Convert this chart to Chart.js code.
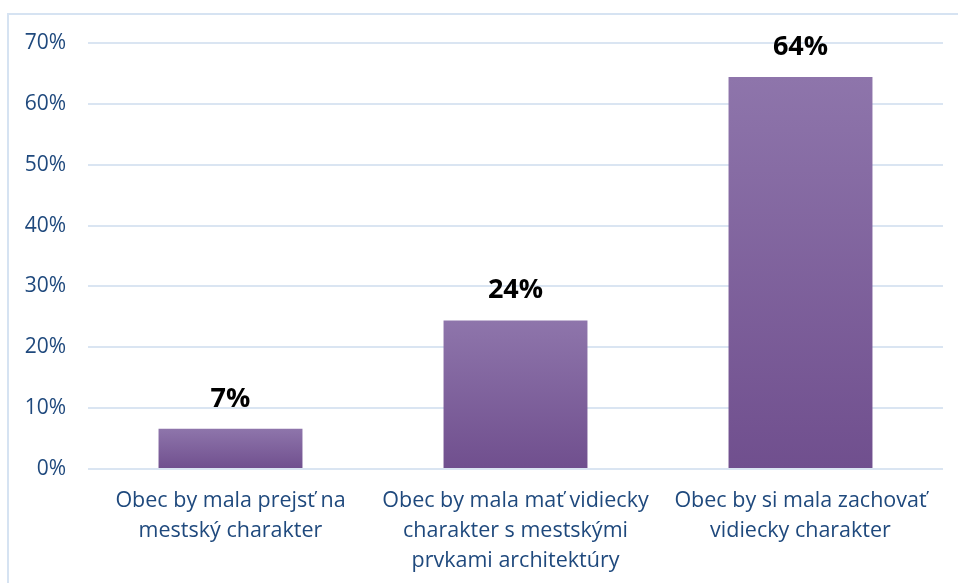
<!DOCTYPE html>
<html>
<head>
<meta charset="utf-8">
<script src="https://cdn.jsdelivr.net/npm/chart.js@4.4.1/dist/chart.umd.min.js"></script>
<style>
  html, body { margin: 0; padding: 0; background: #fff; }
  body { width: 958px; height: 583px; position: relative; overflow: hidden; }
  #frame { position: absolute; left: 7px; top: 13px; width: 1000px; height: 700px;
           border-left: 2px solid #d6e3f2; border-top: 2px solid #d6e3f2; }
  #wrap { position: absolute; left: 0; top: 0; width: 958px; height: 583px; }
</style>
</head>
<body>
<div id="frame"></div>
<div id="wrap"><canvas id="chart" width="958" height="583"></canvas></div>
<script>
const categories = [
  ["Obec by mala prejsť na", "mestský charakter"],
  ["Obec by mala mať vidiecky", "charakter s mestskými", "prvkami architektúry"],
  ["Obec by si mala zachovať", "vidiecky charakter"]
];
const values = [6.6, 24.4, 64.4];
const valueLabels = ["7%", "24%", "64%"];
const yTicks = [0, 10, 20, 30, 40, 50, 60, 70];

const FONT = "'Open Sans', Lato, sans-serif";
const BLUE = "#1f497d";

/* gradient per bar, lighter at the top */
function barFill(context) {
  const chart = context.chart;
  if (!chart.chartArea || context.dataIndex === undefined) return "#7f60a0";
  const y = chart.scales.y;
  const top = y.getPixelForValue(context.raw);
  const base = y.getPixelForValue(0);
  const g = chart.ctx.createLinearGradient(0, top, 0, base);
  g.addColorStop(0, "#8e75ab");
  g.addColorStop(1, "#704f8e");
  return g;
}

const valueLabelPlugin = {
  id: "valueLabels",
  afterDatasetsDraw(chart) {
    const ctx = chart.ctx;
    const meta = chart.getDatasetMeta(0);
    ctx.save();
    ctx.font = "bold 27px " + FONT;
    ctx.fillStyle = "#000";
    ctx.textAlign = "center";
    ctx.textBaseline = "middle";
    meta.data.forEach((bar, i) => {
      ctx.fillText(valueLabels[i], bar.x, bar.y - 30);
    });
    ctx.restore();
  }
};

new Chart(document.getElementById("chart"), {
  type: "bar",
  data: {
    labels: categories,
    datasets: [{
      data: values,
      backgroundColor: barFill,
      borderWidth: 0,
      categoryPercentage: 1,
      barPercentage: 0.505
    }]
  },
  options: {
    responsive: false,
    animation: false,
    devicePixelRatio: 1,
    layout: { padding: { top: 43, right: 15, bottom: 0, left: 0 } },
    plugins: { legend: { display: false }, tooltip: { enabled: false } },
    scales: {
      x: {
        grid: { display: false },
        border: { display: false },
        ticks: {
          color: BLUE,
          font: { family: FONT, size: 21.5, lineHeight: 1.4 },
          padding: 9,
          maxRotation: 0,
          autoSkip: false
        },
        afterFit(scale) { scale.height = 114; }
      },
      y: {
        min: 0,
        max: 70,
        afterBuildTicks(scale) { scale.ticks = yTicks.map(v => ({ value: v })); },
        grid: { color: "#dae5f2", lineWidth: 2, drawTicks: false },
        border: { display: false },
        ticks: {
          color: BLUE,
          font: { family: FONT, size: 21 },
          padding: 22,
          callback: v => v + "%"
        },
        afterFit(scale) { scale.width = 88; }
      }
    }
  },
  plugins: [valueLabelPlugin]
});
</script>
</body>
</html>
